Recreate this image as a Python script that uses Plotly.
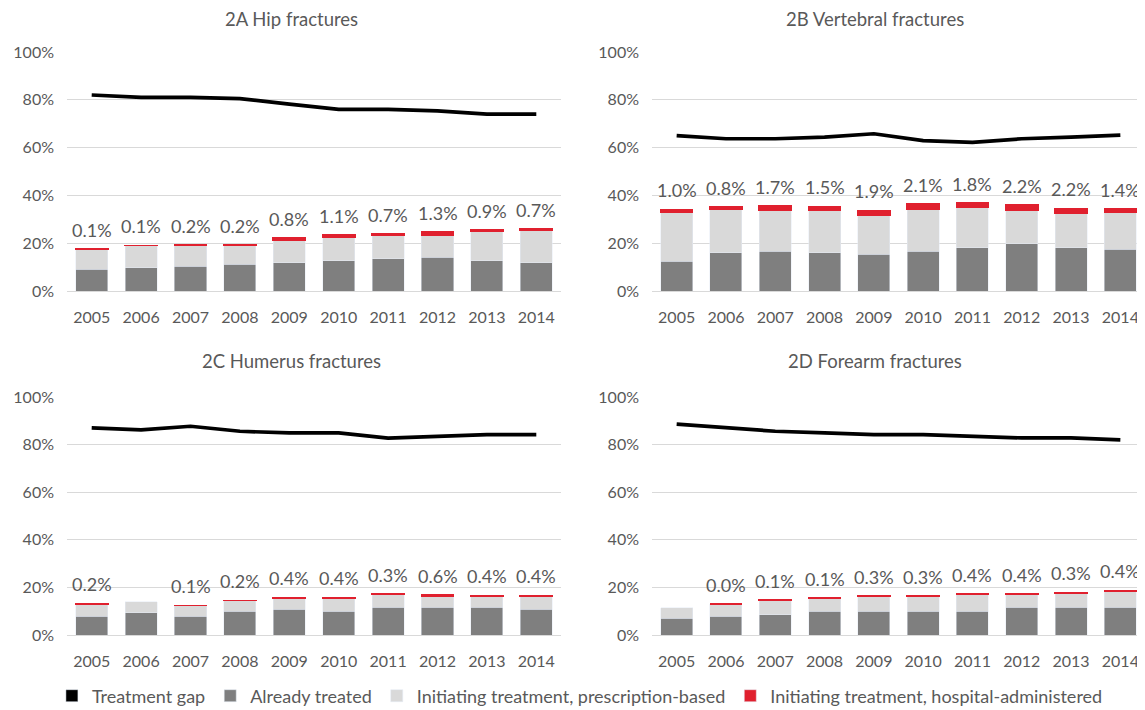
import plotly.graph_objects as go

years = ["2005", "2006", "2007", "2008", "2009", "2010", "2011", "2012", "2013", "2014"]

titles = ["2A Hip fractures", "2B Vertebral fractures", "2C Humerus fractures", "2D Forearm fractures"]

# Treatment gap (%)
gap_A = [82.0, 81.0, 81.0, 80.5, 78.2, 76.0, 76.0, 75.4, 74.0, 74.0]
gap_B = [65.0, 63.7, 63.7, 64.4, 65.8, 62.9, 62.2, 63.7, 64.4, 65.2]
gap_C = [87.0, 86.2, 87.7, 85.6, 84.9, 84.9, 82.7, 83.4, 84.2, 84.2]
gap_D = [88.6, 87.0, 85.6, 84.9, 84.2, 84.2, 83.5, 82.8, 82.8, 82.0]

# Already treated (%)
treated_A = [9.0, 9.7, 10.4, 11.1, 11.8, 12.7, 13.4, 14.1, 12.7, 11.8]
treated_B = [12.4, 16.0, 16.7, 16.0, 15.3, 16.7, 18.1, 19.7, 18.1, 17.4]
treated_C = [7.9, 9.4, 7.9, 10.0, 10.9, 10.0, 11.6, 11.6, 11.6, 10.9]
treated_D = [7.1, 7.9, 8.6, 10.0, 10.0, 10.0, 10.0, 11.6, 11.6, 11.6]

# Initiating treatment, prescription-based (%)
presc_A = [8.6, 9.3, 8.6, 7.9, 9.5, 9.8, 9.8, 9.3, 12.1, 13.6]
presc_B = [20.7, 18.4, 17.2, 17.9, 16.5, 17.7, 17.0, 14.2, 14.3, 15.7]
presc_C = [5.2, 4.5, 4.5, 4.4, 4.5, 5.4, 5.4, 4.7, 4.7, 5.4]
presc_D = [4.3, 5.2, 6.1, 5.4, 6.1, 6.1, 7.0, 5.4, 6.0, 6.7]

# Initiating treatment, hospital-administered (%)
hosp_A = [0.1, 0.1, 0.2, 0.2, 0.8, 1.1, 0.7, 1.3, 0.9, 0.7]
hosp_B = [1.0, 0.8, 1.7, 1.5, 1.9, 2.1, 1.8, 2.2, 2.2, 1.4]
hosp_C = [0.2, None, 0.1, 0.2, 0.4, 0.4, 0.3, 0.6, 0.4, 0.4]
hosp_D = [None, 0.0, 0.1, 0.1, 0.3, 0.3, 0.4, 0.4, 0.3, 0.4]

y_ticks = [0, 20, 40, 60, 80, 100]
y_tick_labels = ["0%", "20%", "40%", "60%", "80%", "100%"]

panels = [
    (gap_A, treated_A, presc_A, hosp_A),
    (gap_B, treated_B, presc_B, hosp_B),
    (gap_C, treated_C, presc_C, hosp_C),
    (gap_D, treated_D, presc_D, hosp_D),
]

C_BLACK = "#000000"
C_DARK = "#7f7f7f"
C_LIGHT = "#d9d9d9"
C_RED = "#e0202e"
C_TEXT = "#595959"
FONT = "Lato"

OFF = 8  # page body margin
W, H = 1145 - OFF, 710 - OFF
x_doms = [[(67 - OFF) / W, (561 - OFF) / W], [(652 - OFF) / W, 1.0]]
y_doms = [[1 - (291 - OFF) / H, 1 - (52 - OFF) / H], [1 - (635 - OFF) / H, 1 - (397 - OFF) / H]]
title_x = [(291 - OFF) / W, (875 - OFF) / W]
title_y = [1 - (19.5 - OFF) / H, 1 - (361 - OFF) / H]

fig = go.Figure()
annotations = []

for i, (gap, tr, pr, ho) in enumerate(panels):
    n = i + 1
    xa = "x" if n == 1 else f"x{n}"
    ya = "y" if n == 1 else f"y{n}"
    fig.add_trace(go.Bar(x=years, y=tr, name="Already treated", marker_color=C_DARK,
                         xaxis=xa, yaxis=ya, showlegend=False))
    fig.add_trace(go.Bar(x=years, y=pr, name="Initiating treatment, prescription-based",
                         marker_color=C_LIGHT, xaxis=xa, yaxis=ya, showlegend=False))
    fig.add_trace(go.Bar(x=years, y=ho, name="Initiating treatment, hospital-administered",
                         marker=dict(color=C_RED, line=dict(color=C_RED, width=1.5)),
                         xaxis=xa, yaxis=ya, showlegend=False))
    fig.add_trace(go.Scatter(x=years, y=gap, mode="lines", name="Treatment gap",
                             line=dict(color=C_BLACK, width=3.7), xaxis=xa, yaxis=ya,
                             showlegend=False))
    # data labels for the hospital-administered share, above each stack
    for j, (a, b, c) in enumerate(zip(tr, pr, ho)):
        if c is None:
            continue
        annotations.append(dict(text=f"{c:.1f}%", x=j, y=a + b + c, xref=xa, yref=ya,
                                xanchor="center", yanchor="bottom", yshift=6,
                                showarrow=False,
                                font=dict(family=FONT, size=18, color=C_TEXT)))

# legend entries (square swatches like the original)
for name, col in [("Treatment gap", C_BLACK), ("Already treated", C_DARK),
                  ("Initiating treatment, prescription-based", C_LIGHT),
                  ("Initiating treatment, hospital-administered", C_RED)]:
    fig.add_trace(go.Bar(x=[years[0]], y=[None], name=name, marker_color=col,
                         showlegend=True, xaxis="x", yaxis="y"))

layout = dict(
    width=W, height=H,
    margin=dict(l=0, r=0, t=0, b=0, autoexpand=False),
    paper_bgcolor="white", plot_bgcolor="white",
    barmode="stack", bargap=0.35,
    font=dict(family=FONT, size=16, color=C_TEXT),
    showlegend=True,
    legend=dict(orientation="h", x=0.503, xanchor="center",
                yref="container", y=1 - (696 - OFF) / H, yanchor="middle",
                font=dict(family=FONT, size=18, color=C_TEXT), itemwidth=30,
                traceorder="normal"),
)

for i in range(4):
    n = i + 1
    col = i % 2
    row = i // 2
    xk = "xaxis" if n == 1 else f"xaxis{n}"
    yk = "yaxis" if n == 1 else f"yaxis{n}"
    layout[xk] = dict(domain=x_doms[col], anchor="y" if n == 1 else f"y{n}",
                      type="category", categoryorder="array", categoryarray=years,
                      range=[-0.5, len(years) - 0.5],
                      showgrid=False, showline=False, ticks="", zeroline=False,
                      tickfont=dict(family=FONT, size=16, color=C_TEXT),
                      ticklabelstandoff=15, fixedrange=True)
    layout[yk] = dict(domain=y_doms[row], anchor="x" if n == 1 else f"x{n}",
                      range=[0, 100], tickmode="array", tickvals=y_ticks, ticktext=y_tick_labels,
                      showgrid=True, gridcolor="#d9d9d9", gridwidth=1.2,
                      zeroline=True, zerolinecolor="#d9d9d9", zerolinewidth=1.2,
                      showline=False, ticks="", ticklabelstandoff=12,
                      tickfont=dict(family=FONT, size=16, color=C_TEXT), fixedrange=True)
    annotations.append(dict(text=titles[i], xref="paper", yref="paper",
                            x=title_x[col], y=title_y[row],
                            xanchor="center", yanchor="middle", showarrow=False,
                            font=dict(family=FONT, size=18.5, color=C_TEXT)))
layout["annotations"] = annotations

fig.update_layout(**layout)
fig.write_html("out.html")
